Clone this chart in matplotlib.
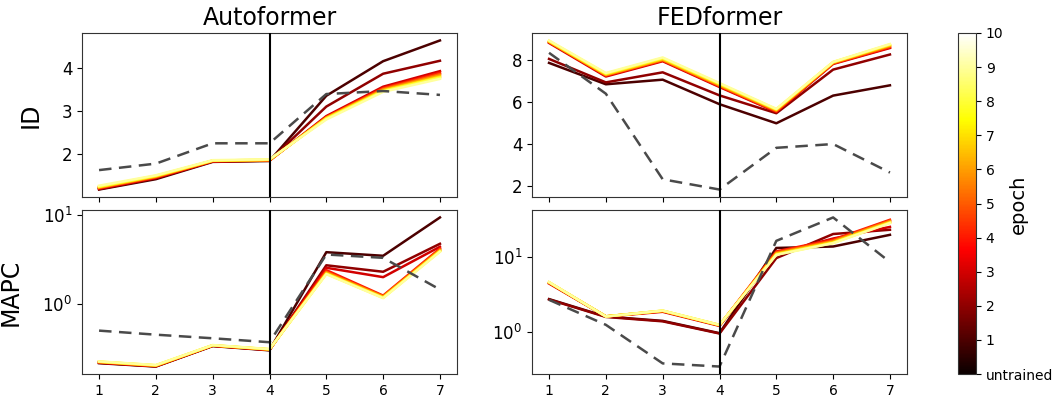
import numpy as np
import matplotlib
matplotlib.use("Agg")
import matplotlib.pyplot as plt
from matplotlib.cm import ScalarMappable
from matplotlib.colors import Normalize
from matplotlib.ticker import NullLocator

layers = [1, 2, 3, 4, 5, 6, 7]
epochs = [1, 2, 3, 4, 5, 6, 7, 8, 9, 10]
models = ["Autoformer", "FEDformer"]
metrics = ["ID", "MAPC"]

# untrained (dashed) values
auto_id_untrained = [1.63, 1.78, 2.25, 2.25, 3.39, 3.46, 3.37]
auto_mapc_untrained = [0.50, 0.45, 0.41, 0.37, 3.6, 3.3, 1.45]
fed_id_untrained = [8.35, 6.40, 2.32, 1.83, 3.82, 4.00, 2.64]
fed_mapc_untrained = [2.67, 1.24, 0.38, 0.345, 16.3, 33.4, 8.5]

# trained values, one row per epoch 1..10
auto_id = [
    [1.18, 1.42, 1.82, 1.84, 3.35, 4.15, 4.63],
    [1.19, 1.44, 1.83, 1.85, 3.10, 3.86, 4.16],
    [1.20, 1.45, 1.83, 1.85, 2.88, 3.56, 3.92],
    [1.21, 1.46, 1.84, 1.85, 2.86, 3.53, 3.88],
    [1.22, 1.47, 1.84, 1.86, 2.85, 3.51, 3.85],
    [1.23, 1.48, 1.85, 1.86, 2.84, 3.49, 3.82],
    [1.24, 1.49, 1.85, 1.87, 2.83, 3.47, 3.79],
    [1.25, 1.50, 1.85, 1.87, 2.82, 3.46, 3.77],
    [1.27, 1.51, 1.86, 1.88, 2.80, 3.44, 3.74],
    [1.23, 1.48, 1.85, 1.86, 2.87, 3.54, 3.89],
]
auto_mapc = [
    [0.215, 0.197, 0.335, 0.300, 3.82, 3.48, 9.40],
    [0.217, 0.198, 0.337, 0.302, 2.72, 2.30, 4.75],
    [0.218, 0.199, 0.338, 0.303, 2.55, 2.00, 4.40],
    [0.220, 0.200, 0.339, 0.305, 2.40, 1.24, 4.20],
    [0.221, 0.201, 0.340, 0.306, 2.30, 1.22, 4.10],
    [0.222, 0.202, 0.341, 0.307, 2.25, 1.20, 4.00],
    [0.223, 0.203, 0.342, 0.308, 2.20, 1.18, 3.95],
    [0.224, 0.204, 0.343, 0.309, 2.18, 1.17, 3.90],
    [0.225, 0.205, 0.344, 0.310, 2.16, 1.16, 3.86],
    [0.219, 0.200, 0.339, 0.304, 2.45, 2.10, 4.50],
]
fed_id = [
    [7.87, 6.85, 7.07, 5.90, 4.99, 6.31, 6.80],
    [8.06, 6.94, 7.42, 6.32, 5.47, 7.55, 8.27],
    [8.82, 7.22, 7.95, 6.72, 5.53, 7.82, 8.58],
    [8.86, 7.26, 7.98, 6.75, 5.55, 7.84, 8.61],
    [8.87, 7.28, 8.00, 6.78, 5.58, 7.86, 8.65],
    [8.88, 7.30, 8.03, 6.81, 5.61, 7.88, 8.69],
    [8.90, 7.33, 8.06, 6.85, 5.64, 7.90, 8.72],
    [8.92, 7.36, 8.10, 6.88, 5.66, 7.91, 8.75],
    [8.94, 7.39, 8.13, 6.91, 5.68, 7.92, 8.77],
    [8.84, 7.23, 7.96, 6.72, 5.52, 7.80, 8.55],
]
fed_mapc = [
    [2.73, 1.60, 1.40, 0.96, 13.1, 13.7, 19.6],
    [2.70, 1.58, 1.38, 0.95, 9.6, 20.1, 22.9],
    [4.40, 1.60, 1.85, 1.20, 11.0, 17.5, 25.0],
    [4.50, 1.60, 1.88, 1.22, 11.8, 16.9, 31.1],
    [4.52, 1.61, 1.89, 1.22, 11.4, 16.4, 30.3],
    [4.55, 1.61, 1.90, 1.23, 11.1, 16.0, 29.5],
    [4.57, 1.61, 1.91, 1.23, 10.9, 15.6, 28.8],
    [4.58, 1.60, 1.92, 1.24, 10.7, 15.3, 28.4],
    [4.60, 1.60, 1.92, 1.24, 10.6, 15.2, 28.1],
    [4.48, 1.60, 1.87, 1.21, 11.5, 16.6, 30.0],
]

untrained = {
    ("Autoformer", "ID"): auto_id_untrained,
    ("Autoformer", "MAPC"): auto_mapc_untrained,
    ("FEDformer", "ID"): fed_id_untrained,
    ("FEDformer", "MAPC"): fed_mapc_untrained,
}
trained = {
    ("Autoformer", "ID"): auto_id,
    ("Autoformer", "MAPC"): auto_mapc,
    ("FEDformer", "ID"): fed_id,
    ("FEDformer", "MAPC"): fed_mapc,
}

W, H = 1060, 397
fig = plt.figure(figsize=(W / 100, H / 100), dpi=100)
cmap = plt.get_cmap("hot")
norm = Normalize(vmin=0, vmax=10)

col_left = [82, 532]
row_top = [33, 210]
aw, ah = 375, 164

for ci, model in enumerate(models):
    for ri, metric in enumerate(metrics):
        ax = fig.add_axes([col_left[ci] / W, 1 - (row_top[ri] + ah) / H, aw / W, ah / H])
        ax.plot(layers, untrained[(model, metric)], ls="--", color="#4a4a4a", lw=1.8,
                dashes=(5, 3), zorder=3)
        for e, vals in zip(epochs, trained[(model, metric)]):
            z = 1.5 if e == 10 else 2
            ax.plot(layers, vals, color=cmap(norm(e)), lw=1.8, zorder=z)
        ax.axvline(4, color="black", lw=1.5, zorder=4)
        ax.set_xticks(layers)
        if metric == "MAPC":
            ax.set_yscale("log")
            ax.yaxis.set_minor_locator(NullLocator())
        else:
            ax.set_xticklabels([])
        ax.tick_params(axis="y", labelsize=12)
        ax.tick_params(axis="x", labelsize=10)
        if ri == 0:
            ax.set_title(model, fontsize=17)
        if ci == 0:
            ax.set_ylabel(metric, fontsize=17, labelpad=14)
        for s in ax.spines.values():
            s.set_color("#333333")

cax = fig.add_axes([958 / W, 1 - 374 / H, 18 / W, 341 / H])
sm = ScalarMappable(norm=norm, cmap=cmap)
cb = fig.colorbar(sm, cax=cax)
cb.set_ticks(list(range(0, 11)))
cb.set_ticklabels(["untrained"] + [str(i) for i in range(1, 11)])
cb.ax.tick_params(labelsize=10)
cb.outline.set_edgecolor("#333333")
fig.text(1018 / W, 1 - 204 / H, "epoch", rotation=90, fontsize=14,
         ha="center", va="center")

fig.savefig("out.png", dpi=100)
